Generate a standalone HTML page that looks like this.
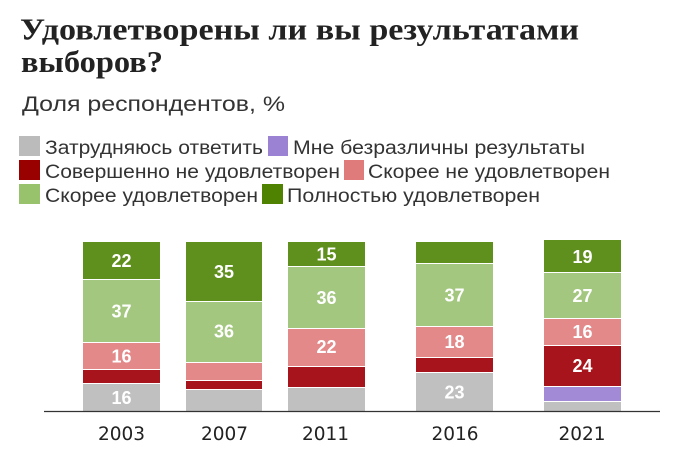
<!DOCTYPE html>
<html><head><meta charset="utf-8"><style>
html,body{margin:0;padding:0;background:#fff;}
svg{display:block;}
</style></head><body>
<svg width="690" height="455" viewBox="0 0 690 455" xmlns="http://www.w3.org/2000/svg">
<rect width="690" height="455" fill="#fff"/>
<g font-family="'Liberation Serif', serif" font-weight="bold" fill="#222" font-size="31">
<text x="20" y="39.5" textLength="559" lengthAdjust="spacingAndGlyphs">Удовлетворены ли вы результатами</text>
<text x="21" y="72" textLength="142" lengthAdjust="spacingAndGlyphs">выборов?</text>
</g>
<text x="22" y="111" font-family="'Liberation Sans', sans-serif" font-size="21.5" fill="#333" textLength="263" lengthAdjust="spacingAndGlyphs">Доля респондентов, %</text>

<g font-family="'Liberation Sans', sans-serif" font-size="19" fill="#333">
<rect x="19" y="136" width="21" height="20" fill="#bbbbbb"/>
<text x="45" y="154" textLength="218" lengthAdjust="spacingAndGlyphs">Затрудняюсь ответить</text>
<rect x="268" y="136" width="20" height="20" fill="#9c82d2"/>
<text x="293" y="154" textLength="292" lengthAdjust="spacingAndGlyphs">Мне безразличны результаты</text>

<rect x="19" y="160" width="21" height="20" fill="#990000"/>
<text x="45" y="178" textLength="295" lengthAdjust="spacingAndGlyphs">Совершенно не удовлетворен</text>
<rect x="344" y="160" width="20" height="20" fill="#e07b7b"/>
<text x="368" y="178" textLength="242" lengthAdjust="spacingAndGlyphs">Скорее не удовлетворен</text>

<rect x="19" y="184" width="21" height="20" fill="#98c26c"/>
<text x="45" y="202" textLength="213" lengthAdjust="spacingAndGlyphs">Скорее удовлетворен</text>
<rect x="262" y="184" width="21" height="20" fill="#4f8200"/>
<text x="287" y="202" textLength="253" lengthAdjust="spacingAndGlyphs">Полностью удовлетворен</text>
</g>

<!-- bars -->
<g>
<!-- 2003 -->
<rect x="83" y="242" width="77" height="37" fill="#5f8f1d"/>
<rect x="83" y="280" width="77" height="62" fill="#a3c77f"/>
<rect x="83" y="343" width="77" height="26" fill="#e3898a"/>
<rect x="83" y="370" width="77" height="13" fill="#a8141b"/>
<rect x="83" y="384" width="77" height="27" fill="#c0c0c0"/>
<!-- 2007 -->
<rect x="186" y="242" width="76" height="59" fill="#5f8f1d"/>
<rect x="186" y="302" width="76" height="60" fill="#a3c77f"/>
<rect x="186" y="363" width="76" height="17" fill="#e3898a"/>
<rect x="186" y="381" width="76" height="8" fill="#a8141b"/>
<rect x="186" y="390" width="76" height="21" fill="#c0c0c0"/>
<!-- 2011 -->
<rect x="288" y="242" width="77" height="24" fill="#5f8f1d"/>
<rect x="288" y="267" width="77" height="61" fill="#a3c77f"/>
<rect x="288" y="329" width="77" height="37" fill="#e3898a"/>
<rect x="288" y="367" width="77" height="20" fill="#a8141b"/>
<rect x="288" y="388" width="77" height="23" fill="#c0c0c0"/>
<!-- 2016 -->
<rect x="416" y="242" width="77" height="21" fill="#5f8f1d"/>
<rect x="416" y="264" width="77" height="62" fill="#a3c77f"/>
<rect x="416" y="327" width="77" height="30" fill="#e3898a"/>
<rect x="416" y="358" width="77" height="14" fill="#a8141b"/>
<rect x="416" y="373" width="77" height="38" fill="#c0c0c0"/>
<!-- 2021 -->
<rect x="544" y="240" width="77" height="32" fill="#5f8f1d"/>
<rect x="544" y="273" width="77" height="45" fill="#a3c77f"/>
<rect x="544" y="319" width="77" height="26" fill="#e3898a"/>
<rect x="544" y="346" width="77" height="40" fill="#a8141b"/>
<rect x="544" y="387" width="77" height="14" fill="#a38ad6"/>
<rect x="544" y="402" width="77" height="9" fill="#c0c0c0"/>
</g>

<line x1="44" y1="411.5" x2="660" y2="411.5" stroke="#333" stroke-width="1.2"/>

<g font-family="'Liberation Sans', sans-serif" font-weight="bold" font-size="18" fill="#fff" text-anchor="middle">
<text x="121.5" y="267">22</text>
<text x="121.5" y="317.5">37</text>
<text x="121.5" y="362.5">16</text>
<text x="121.5" y="404">16</text>
<text x="224" y="278">35</text>
<text x="224" y="337.5">36</text>
<text x="326.5" y="260.5">15</text>
<text x="326.5" y="304">36</text>
<text x="326.5" y="353">22</text>
<text x="454.5" y="301.5">37</text>
<text x="454.5" y="348">18</text>
<text x="454.5" y="398.5">23</text>
<text x="582.5" y="263">19</text>
<text x="582.5" y="302">27</text>
<text x="582.5" y="338">16</text>
<text x="582.5" y="372">24</text>
</g>

<g font-family="'DejaVu Sans', sans-serif" font-size="18.5" fill="#222" text-anchor="middle">
<text x="121.5" y="440">2003</text>
<text x="224.5" y="440">2007</text>
<text x="325.5" y="440">2011</text>
<text x="455" y="440">2016</text>
<text x="582" y="440">2021</text>
</g>
</svg>
</body></html>
